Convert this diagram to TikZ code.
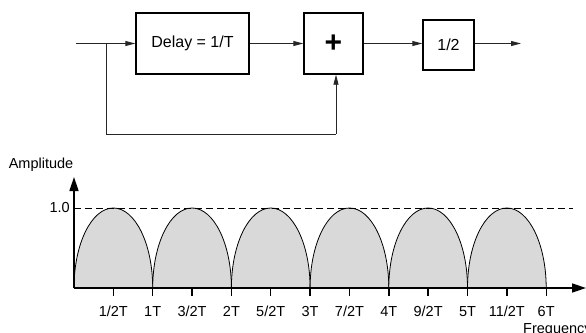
\documentclass[tikz,border=0pt]{standalone}
\usepackage{fontspec}
\setmainfont{Liberation Sans}
\usetikzlibrary{arrows.meta,calc}
\begin{document}
\begin{tikzpicture}[x=1pt,y=1pt,
  blockbox/.style={draw=black,line width=1.4pt,inner sep=0pt,font=\fontsize{16}{18}\selectfont},
  conn/.style={line width=0.9pt,draw=black!85,-{Triangle[length=10pt,width=5pt]}},
  wire/.style={line width=0.9pt,draw=black!85},
  axis/.style={line width=1.6pt,-{Triangle[length=14pt,width=9pt]}},
  lab/.style={font=\fontsize{14.5}{16}\selectfont,inner sep=0pt},
  arch/.style={fill=black!15,draw=black,line width=0.8pt}
]
\useasboundingbox (0,0) rectangle (586,-332);
% block diagram
\coordinate (in) at (76,-43.5);
\coordinate (br) at (106,-43.5);
\node[blockbox,minimum width=113pt,minimum height=61pt] (delay) at (192.5,-43.5) {Delay = 1/T};
\node[blockbox,minimum width=59pt,minimum height=61pt,font=\fontsize{30}{32}\selectfont\bfseries] (plus) at (333.5,-43.5) {+};
\node[blockbox,minimum width=51pt,minimum height=50pt] (half) at (448.5,-45) {1/2};
\coordinate (out) at (521,-43.5);
\coordinate (fb1) at (106,-134);
\coordinate (fb2) at (336,-134);
\draw[wire] (in) -- (br);
\draw[conn] (br) -- (delay.west);
\draw[conn] (delay.east) -- (plus.west);
\draw[conn] (plus.east) -- (plus.east -| half.west);
\draw[conn] (half.east |- out) -- (out);
\draw[wire] (br) -- (fb1) -- (fb2);
\draw[conn] (fb2) -- (fb2 |- plus.south);
% plot
\coordinate (O) at (74,-288);
\coordinate (ytip) at (74,-177);
\coordinate (xtip) at (586,-288);
\foreach \k in {0,...,5}{
  \fill[black!15] ({74+78.7*\k},-288) arc[start angle=180,end angle=0,x radius=39.35,y radius=80] -- cycle;
  \draw[line width=0.8pt] ({74+78.7*\k},-288) arc[start angle=180,end angle=0,x radius=39.35,y radius=80];
}
\draw[dashed,dash pattern=on 7pt off 4pt,line width=0.8pt] (74,-208) -- (573,-208);
\draw[axis] (O) -- (ytip);
\draw[axis] (O) -- (xtip);
\foreach \k/\t in {1/1\slash 2T,2/1T,3/3\slash 2T,4/2T,5/5\slash 2T,6/3T,7/7\slash 2T,8/4T,9/9\slash 2T,10/5T,11/11\slash 2T,12/6T}{
  \draw[line width=1.4pt] ({74+39.35*\k},-288) -- ({74+39.35*\k},-296);
  \node[lab,anchor=base] at ({74+39.35*\k},-316.5) {\t};
}
\node[lab] (amp) at (41,-165) {Amplitude};
\node[lab,anchor=east] (one) at (70,-208) {1.0};
\node[lab,anchor=base west] (freq) at (523,-333) {Frequency};
\end{tikzpicture}
\end{document}
